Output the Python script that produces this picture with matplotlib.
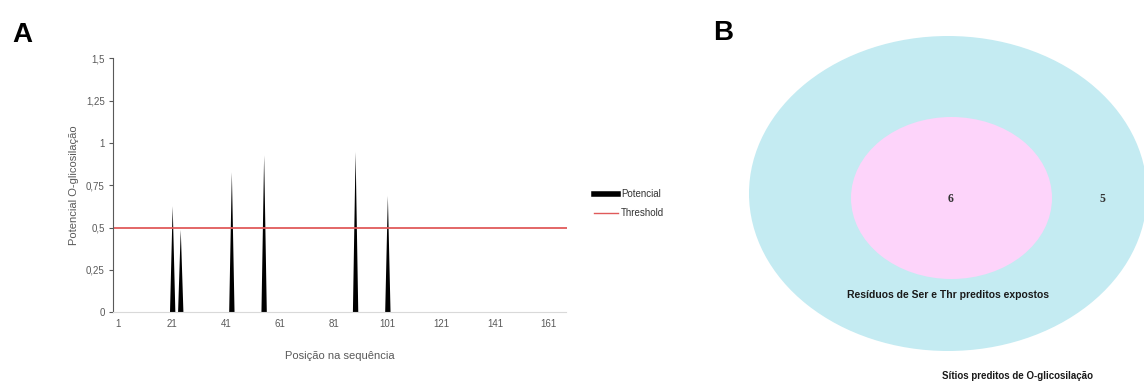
import numpy as np
import matplotlib
matplotlib.use('Agg')
import matplotlib.pyplot as plt
from matplotlib.patches import Ellipse
from matplotlib.lines import Line2D
from matplotlib.ticker import FuncFormatter

plt.rcParams['font.family'] = ['Liberation Sans', 'DejaVu Sans']

# panel A data
n_residues = 167
site_positions = [21, 24, 43, 55, 89, 101]
site_potential = [0.63, 0.49, 0.83, 0.93, 0.95, 0.69]
threshold = 0.5
x_ticks = [1, 21, 41, 61, 81, 101, 121, 141, 161]
y_ticks = [0, 0.25, 0.5, 0.75, 1, 1.25, 1.5]

# panel B data
venn_labels = ['Resíduos de Ser e Thr preditos expostos', 'Sítios preditos de O-glicosilação']
venn_counts = [6, 5]

grey = '#595959'

seq = np.arange(1, n_residues + 1)
potential = np.zeros(n_residues)
potential[np.array(site_positions) - 1] = site_potential

fig = plt.figure(figsize=(11.44, 3.85), dpi=100)

# ---- panel A ----
ax = fig.add_axes([113 / 1144, 1 - 312.3 / 385, 453.5 / 1144, 254 / 385])
ax.fill_between(seq, potential, 0, color='black', linewidth=0)
ax.axhline(threshold, color='#e05a5a', linewidth=1.3)
ax.set_xlim(-1, 167.6)
ax.set_ylim(0, 1.5)
ax.set_xticks(x_ticks)
ax.set_yticks(y_ticks)
ax.yaxis.set_major_formatter(FuncFormatter(lambda v, p: ('%g' % v).replace('.', ',')))
ax.tick_params(axis='x', length=0, pad=5, labelsize=7, labelcolor=grey)
ax.tick_params(axis='y', length=3, width=0.8, color=grey, pad=3, labelsize=7, labelcolor=grey)
for s in ['top', 'right']:
    ax.spines[s].set_visible(False)
ax.spines['left'].set_color(grey)
ax.spines['left'].set_linewidth(0.8)
ax.spines['bottom'].set_color('#d9d9d9')
ax.spines['bottom'].set_linewidth(0.8)
ax.set_xlabel('Posição na sequência', fontsize=8, color=grey)
ax.set_ylabel('Potencial O-glicosilação', fontsize=8, color=grey)
ax.xaxis.set_label_coords(0.5, -0.152)
ax.yaxis.set_label_coords(-0.076, 0.5)

handles = [Line2D([0], [0], color='black', linewidth=4),
           Line2D([0], [0], color='#e05a5a', linewidth=1)]
fig.legend(handles, ['Potencial', 'Threshold'], loc='upper left',
           bbox_to_anchor=(594 / 1144, 1 - 189 / 385), frameon=False,
           fontsize=7, handlelength=2.5, handletextpad=0.3, labelspacing=0.95,
           borderpad=0, borderaxespad=0, labelcolor='#333333')

fig.text(12 / 1144, 1 - 35 / 385, 'A', fontsize=20, fontweight='heavy', va='center', ha='left')
fig.text(713 / 1144, 1 - 33 / 385, 'B', fontsize=20, fontweight='heavy', va='center', ha='left')

# ---- panel B ----
bx = fig.add_axes([700 / 1144, 0, 444 / 1144, 1])
bx.set_xlim(700, 1144)
bx.set_ylim(385, 0)
bx.axis('off')
bx.add_patch(Ellipse((948, 193.5), 398, 315, facecolor='#c4ebf2', edgecolor='none'))
bx.add_patch(Ellipse((951.5, 198), 201, 162, facecolor='#fdd4fa', edgecolor='none'))
bx.text(951, 199, str(venn_counts[0]), fontsize=8.5, family='Liberation Serif',
        fontweight='bold', ha='center', va='center', color='#333333')
bx.text(1102, 199, str(venn_counts[1]), fontsize=8.5, family='Liberation Serif',
        fontweight='bold', ha='center', va='center', color='#333333')
bx.text(948, 295, venn_labels[0], fontsize=7.5, fontweight='bold',
        ha='center', va='center', color='#1a1a1a')
bx.text(1018, 376, venn_labels[1], fontsize=7, fontweight='bold',
        ha='center', va='center', color='#1a1a1a')

fig.savefig('out.png', dpi=100)
